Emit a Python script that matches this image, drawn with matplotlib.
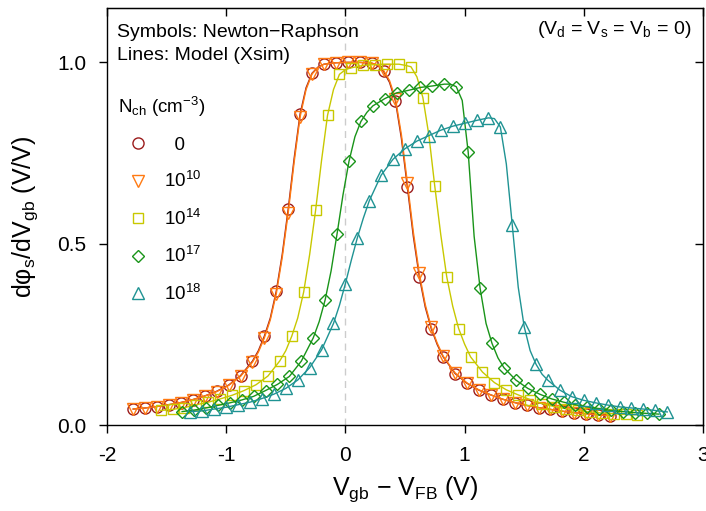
import matplotlib
matplotlib.use('Agg')
import matplotlib.pyplot as plt
from matplotlib.lines import Line2D
import numpy as np

plt.rcParams['font.family'] = ['Liberation Sans', 'DejaVu Sans']
plt.rcParams['mathtext.fontset'] = 'custom'
plt.rcParams['mathtext.rm'] = 'Liberation Sans'
plt.rcParams['mathtext.it'] = 'Liberation Sans:italic'
plt.rcParams['mathtext.default'] = 'rm'
plt.rcParams['axes.unicode_minus'] = False

# ---- data ----
# Nch = 0 (circles)
x0 = [-1.78, -1.68, -1.58, -1.48, -1.38, -1.28, -1.18, -1.08, -0.98, -0.88,
      -0.78, -0.68, -0.58, -0.48, -0.38, -0.28, -0.18, -0.08, 0.02, 0.12,
      0.22, 0.32, 0.42, 0.52, 0.62, 0.72, 0.82, 0.92, 1.02, 1.12,
      1.22, 1.32, 1.42, 1.52, 1.62, 1.72, 1.82, 1.92, 2.02, 2.12, 2.22]
y0 = [0.044, 0.047, 0.051, 0.056, 0.062, 0.070, 0.080, 0.093, 0.110, 0.136,
      0.176, 0.245, 0.369, 0.595, 0.858, 0.970, 0.995, 0.999, 1.000, 1.000,
      0.998, 0.975, 0.893, 0.656, 0.409, 0.266, 0.188, 0.142, 0.115, 0.096,
      0.083, 0.071, 0.062, 0.054, 0.048, 0.043, 0.038, 0.034, 0.031, 0.028, 0.026]
# extra points on the model line
lx0 = [-0.73, -0.63, -0.53, -0.43, -0.33, -0.23, 0.27, 0.37, 0.47, 0.57, 0.67, 0.77]
ly0 = [0.205, 0.295, 0.470, 0.735, 0.930, 0.987, 0.992, 0.945, 0.790, 0.520, 0.325, 0.222]

# Nch = 1e10 (down triangles)
x1 = x0
y1 = [0.044, 0.047, 0.051, 0.056, 0.062, 0.070, 0.080, 0.092, 0.109, 0.134,
      0.173, 0.240, 0.362, 0.585, 0.850, 0.968, 0.995, 0.999, 1.000, 1.000,
      0.998, 0.978, 0.900, 0.668, 0.418, 0.270, 0.190, 0.144, 0.116, 0.097,
      0.083, 0.071, 0.062, 0.054, 0.048, 0.043, 0.038, 0.034, 0.031, 0.028, 0.026]
lx1 = lx0
ly1 = [0.201, 0.290, 0.462, 0.725, 0.925, 0.986, 0.993, 0.950, 0.800, 0.532, 0.332, 0.226]

# Nch = 1e14 (squares)
x2 = [-1.55, -1.45, -1.35, -1.25, -1.15, -1.05, -0.95, -0.85, -0.75, -0.65,
      -0.55, -0.45, -0.35, -0.25, -0.15, -0.05, 0.05, 0.15, 0.25, 0.35,
      0.45, 0.55, 0.65, 0.75, 0.85, 0.95, 1.05, 1.15, 1.25, 1.35,
      1.45, 1.55, 1.65, 1.75, 1.85, 1.95, 2.05, 2.15, 2.25, 2.35, 2.45]
y2 = [0.040, 0.043, 0.048, 0.056, 0.063, 0.072, 0.082, 0.095, 0.111, 0.135,
      0.177, 0.245, 0.367, 0.592, 0.854, 0.967, 0.985, 0.992, 0.994, 0.995,
      0.995, 0.988, 0.903, 0.658, 0.409, 0.266, 0.188, 0.146, 0.117, 0.097,
      0.083, 0.070, 0.059, 0.051, 0.045, 0.040, 0.036, 0.033, 0.031, 0.029, 0.028]
lx2 = [-0.50, -0.40, -0.30, -0.20, -0.10, 0.00, 0.50, 0.60, 0.70, 0.80, 0.90, 1.00]
ly2 = [0.205, 0.295, 0.470, 0.730, 0.925, 0.980, 0.992, 0.960, 0.800, 0.525, 0.328, 0.223]

# Nch = 1e17 (diamonds)
x3 = [-1.37, -1.27, -1.17, -1.07, -0.97, -0.87, -0.77, -0.67, -0.57, -0.47,
      -0.37, -0.27, -0.17, -0.07, 0.03, 0.13, 0.23, 0.33, 0.43, 0.53,
      0.63, 0.73, 0.83, 0.93, 1.03, 1.13, 1.23, 1.33, 1.43, 1.53,
      1.63, 1.73, 1.83, 1.93, 2.03, 2.13, 2.23, 2.33, 2.43, 2.53, 2.63]
y3 = [0.037, 0.041, 0.047, 0.054, 0.061, 0.069, 0.079, 0.095, 0.112, 0.134,
      0.176, 0.240, 0.345, 0.527, 0.727, 0.837, 0.880, 0.900, 0.916, 0.923,
      0.931, 0.935, 0.940, 0.933, 0.753, 0.377, 0.225, 0.158, 0.124, 0.101,
      0.085, 0.072, 0.063, 0.056, 0.050, 0.045, 0.040, 0.037, 0.034, 0.032, 0.030]
lx3 = [-0.22, -0.12, -0.02, 0.08, 0.18, 0.88, 0.98, 1.08, 1.18, 1.28]
ly3 = [0.285, 0.425, 0.635, 0.795, 0.862, 0.940, 0.895, 0.520, 0.280, 0.185]

# Nch = 1e18 (up triangles)
x4 = [-1.3, -1.2, -1.1, -1.0, -0.9, -0.8, -0.7, -0.6, -0.5, -0.4,
      -0.3, -0.2, -0.1, 0.0, 0.1, 0.2, 0.3, 0.4, 0.5, 0.6,
      0.7, 0.8, 0.9, 1.0, 1.1, 1.2, 1.3, 1.4, 1.5, 1.6,
      1.7, 1.8, 1.9, 2.0, 2.1, 2.2, 2.3, 2.4, 2.5, 2.6, 2.7]
y4 = [0.037, 0.039, 0.044, 0.049, 0.056, 0.063, 0.073, 0.085, 0.101, 0.124,
      0.158, 0.207, 0.280, 0.390, 0.516, 0.618, 0.689, 0.733, 0.762, 0.783,
      0.798, 0.813, 0.824, 0.832, 0.840, 0.847, 0.822, 0.551, 0.271, 0.167,
      0.123, 0.096, 0.078, 0.068, 0.061, 0.055, 0.050, 0.047, 0.044, 0.040, 0.036]
lx4 = [-0.05, 0.05, 0.15, 1.25, 1.35, 1.45, 1.55, 1.65]
ly4 = [0.330, 0.455, 0.570, 0.845, 0.720, 0.380, 0.205, 0.140]

labels = ['  0', '10$^{10}$', '10$^{14}$', '10$^{17}$', '10$^{18}$']
colors = ['#9b1b1b', '#ff7a12', '#c8c800', '#199419', '#1f9393']
markers = ['o', 'v', 's', 'D', '^']
msizes = [8, 8, 7, 6, 8]


def line_pts(xm, ym, xe, ye):
    xx = np.array(list(xm) + list(xe))
    yy = np.array(list(ym) + list(ye))
    idx = np.argsort(xx)
    return xx[idx], yy[idx]


fig = plt.figure(figsize=(7.06, 5.11), dpi=100)
ax = fig.add_axes([107/706, 1 - 425/511, 596/706, 417/511])

ax.axvline(0, color='#cccccc', lw=1.0, ls=(0, (5, 4)), zorder=0)

series = [(x4, y4, lx4, ly4, 4), (x3, y3, lx3, ly3, 3), (x2, y2, lx2, ly2, 2),
          (x0, y0, lx0, ly0, 0), (x1, y1, lx1, ly1, 1)]
for xm, ym, xe, ye, i in series:
    lx, ly = line_pts(xm, ym, xe, ye)
    ax.plot(lx, ly, '-', color=colors[i], lw=1.0, zorder=2 + i)
    ax.plot(xm, ym, ls='none', marker=markers[i], ms=msizes[i], mfc='none',
            mec=colors[i], mew=1.0, zorder=2 + i)

ax.set_xlim(-2, 3)
ax.set_ylim(0, 1.15)
ax.set_xticks([-2, -1, 0, 1, 2, 3])
ax.set_yticks([0.0, 0.5, 1.0])
ax.set_yticklabels(['0.0', '0.5', '1.0'])
ax.tick_params(direction='out', length=6, width=1, labelsize=15)
ax.tick_params(axis='x', pad=9)
ax.tick_params(axis='y', pad=9)
for s in ax.spines.values():
    s.set_linewidth(1.0)

top = ax.secondary_xaxis('top')
top.set_xticks([-2, -1, 0, 1, 2, 3])
top.tick_params(direction='in', length=6, width=1, labeltop=False)
right = ax.secondary_yaxis('right')
right.set_yticks([0.0, 0.5, 1.0])
right.tick_params(direction='in', length=6, width=1, labelright=False)

ax.set_xlabel('V$_{gb}$ $-$ V$_{FB}$ (V)', fontsize=18, labelpad=7)
ax.set_ylabel('d\u03c6$_{s}$/dV$_{gb}$ (V/V)', fontsize=18, labelpad=12)

ax.text(0.016, 0.930, 'Symbols: Newton\u2212Raphson', transform=ax.transAxes,
        fontsize=14, ha='left', va='baseline')
ax.text(0.016, 0.875, 'Lines: Model (Xsim)', transform=ax.transAxes,
        fontsize=14, ha='left', va='baseline')
ax.text(0.98, 0.938, '(V$_{d}$ = V$_{s}$ = V$_{b}$ = 0)', transform=ax.transAxes,
        fontsize=14, ha='right', va='baseline')

handles = [Line2D([], [], ls='none', marker=markers[i], ms=msizes[i], mfc='none',
                  mec=colors[i], mew=1.0) for i in range(5)]
leg = ax.legend(handles, labels, loc='upper left', bbox_to_anchor=(0.0, 0.818),
                frameon=False, fontsize=13.5, title='N$_{ch}$ (cm$^{-3}$)',
                title_fontsize=13.5, alignment='left', handlelength=2.1,
                handletextpad=0.35, labelspacing=0.93, borderpad=0.3,
                borderaxespad=0.3)

fig.savefig('out.png', dpi=100)
